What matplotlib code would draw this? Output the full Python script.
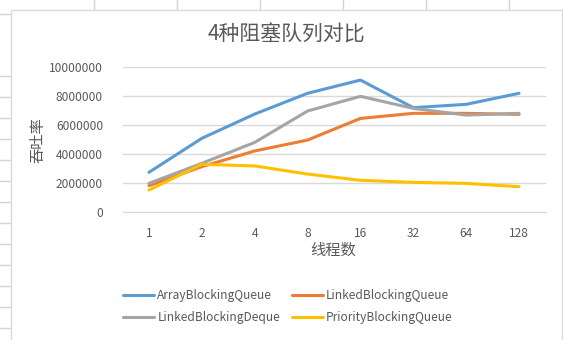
import matplotlib
matplotlib.use("Agg")
import matplotlib.pyplot as plt
from matplotlib.lines import Line2D
from matplotlib.patches import Rectangle
import numpy as np

plt.rcParams["font.family"] = ["Noto Sans CJK SC", "DejaVu Sans"]

threads = ["1", "2", "4", "8", "16", "32", "64", "128"]
array_bq = [2730000, 5070000, 6740000, 8170000, 9080000, 7180000, 7410000, 8170000]
linked_bq = [1810000, 3120000, 4200000, 4950000, 6440000, 6790000, 6790000, 6720000]
linked_bd = [1970000, 3350000, 4790000, 6950000, 7960000, 7130000, 6670000, 6790000]
priority_bq = [1510000, 3280000, 3170000, 2610000, 2180000, 2040000, 1970000, 1740000]

series = [
    ("ArrayBlockingQueue", array_bq, "#5B9BD5"),
    ("LinkedBlockingQueue", linked_bq, "#ED7D31"),
    ("LinkedBlockingDeque", linked_bd, "#A5A5A5"),
    ("PriorityBlockingQueue", priority_bq, "#FFC000"),
]

W, H = 563, 340
TEXT = "#595959"
GRID = "#D9D9D9"
SHEET = "#D4D4D4"


def fx(px):
    return px / W


def fy(py):
    return 1 - py / H


fig = plt.figure(figsize=(W / 100, H / 100), dpi=100)

# worksheet cell lines around the embedded chart
for x in (93.5, 176.5, 259.5, 342.5, 425.5, 508.5):
    fig.add_artist(Line2D([fx(x), fx(x)], [fy(0), fy(10)], color=SHEET, lw=1, zorder=-3))
for y in [13.5] + [76 + 20.97 * k for k in range(13)]:
    fig.add_artist(Line2D([fx(0), fx(10.5)], [fy(y), fy(y)], color=SHEET, lw=1, zorder=-3))
fig.add_artist(Rectangle((fx(10.5), fy(345)), fx(562.3 - 10.5), fy(9.5) - fy(345),
                         transform=fig.transFigure, facecolor="white",
                         edgecolor=GRID, lw=1, zorder=-2))

ax = fig.add_axes([fx(122.5), fy(212), fx(545.5 - 122.5), fy(66.7) - fy(212)])
x = np.arange(len(threads))
for name, vals, color in series:
    ax.plot(x, vals, color=color, lw=2.2, label=name, solid_capstyle="round",
            solid_joinstyle="round")

ax.set_xlim(-0.5, len(threads) - 0.5)
ax.set_ylim(0, 10000000)
ax.set_yticks(np.arange(0, 10000001, 2000000))
ax.set_yticklabels([f"{int(v)}" for v in np.arange(0, 10000001, 2000000)])
ax.set_xticks(x)
ax.set_xticklabels(threads)
ax.grid(axis="y", color=GRID, lw=1)
ax.set_axisbelow(True)
for side in ("top", "right", "left"):
    ax.spines[side].set_visible(False)
ax.spines["bottom"].set_color(GRID)
ax.tick_params(length=0, colors=TEXT, labelsize=8.6)
ax.tick_params(axis="y", pad=14)
ax.tick_params(axis="x", pad=11)
ax.set_facecolor("none")

fig.text(fx(286), fy(35), "4种阻塞队列对比", ha="center", va="center",
         fontsize=15, color=TEXT)
fig.text(fx(37.7), fy(140), "吞吐率", ha="center", va="center", rotation=90,
         fontsize=11, color=TEXT)
fig.text(fx(333), fy(250.7), "线程数", ha="center", va="center",
         fontsize=11, color=TEXT)

# legend fills row by row: reorder for matplotlib's column-major layout
handles, labels = ax.get_legend_handles_labels()
order = [0, 2, 1, 3]
fig.legend([handles[i] for i in order], [labels[i] for i in order],
           loc="center", bbox_to_anchor=(fx(288), fy(306.5)),
           ncol=2, frameon=False, fontsize=8.6, labelcolor=TEXT, handlelength=2.6,
           handletextpad=0.25, columnspacing=1.0, labelspacing=0.8)

fig.savefig("out.png", dpi=100)
